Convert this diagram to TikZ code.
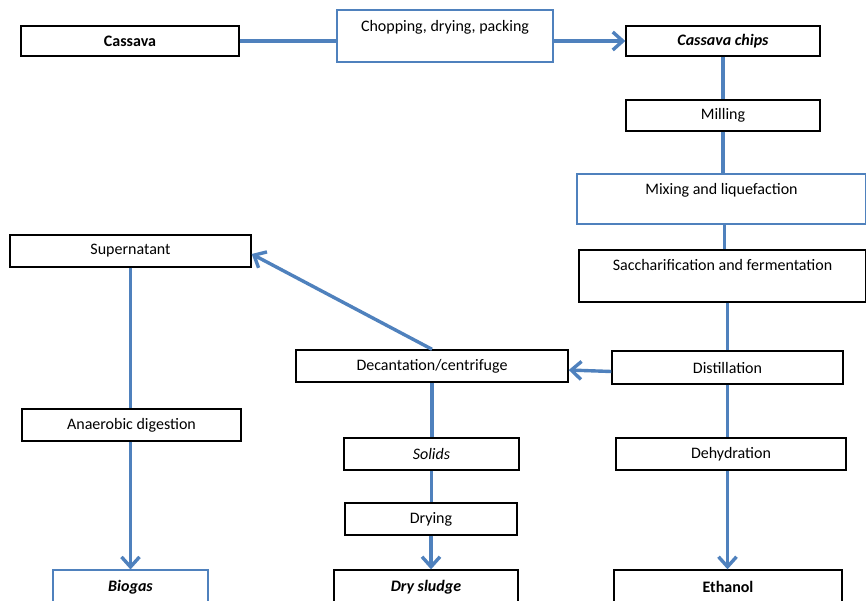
\documentclass[tikz,border=0pt]{standalone}
\usepackage{fontspec}
\setmainfont{Carlito}
\usepackage{tikz}
\usetikzlibrary{arrows.meta,calc,positioning}
\definecolor{flowblue}{RGB}{79,129,189}

\begin{document}
\begin{tikzpicture}[
  x=1pt,y=-1pt,
  font=\fontsize{16}{18}\selectfont,
  box/.style={draw,line width=1.4pt,fill=white,inner sep=0pt,align=center},
  bluebox/.style={draw=flowblue,line width=1.1pt,fill=white,inner sep=0pt},
  flow/.style={draw=flowblue,line width=3.4pt},
  >={Straight Barb[length=10pt,width=18pt]}
]
  \useasboundingbox[fill=white] (0,0) rectangle (866,600);

  \node[box,minimum width=218pt,minimum height=30pt] (cassava) at (130,41) {\textbf{Cassava}};
  \node[bluebox,minimum width=216pt,minimum height=52pt,
        label={[anchor=north,yshift=-7pt]north:Chopping, drying, packing}] (chop) at (445,36) {};
  \node[box,minimum width=194pt,minimum height=30pt] (chips) at (723,41) {\textbf{\textit{Cassava chips}}};
  \node[box,minimum width=194pt,minimum height=31pt] (mill) at (723,115.5) {Milling};
  \node[bluebox,minimum width=289pt,minimum height=50pt,
        label={[anchor=north,yshift=-6pt]north:Mixing and liquefaction}] (mix) at (721.5,199) {};
  \node[box,minimum width=287pt,minimum height=52pt,
        label={[anchor=north,yshift=-7pt]north:Saccharification and fermentation}] (sacch) at (722.5,276) {};
  \node[box,minimum width=241pt,minimum height=32pt] (super) at (130.5,251) {Supernatant};
  \node[box,minimum width=272pt,minimum height=32pt] (decant) at (432,366) {Decantation/centrifuge};
  \node[box,minimum width=231pt,minimum height=33pt] (distil) at (727.5,367.5) {Distillation};
  \node[box,minimum width=219pt,minimum height=32pt] (anaer) at (131.5,425) {Anaerobic digestion};
  \node[box,minimum width=175pt,minimum height=32pt] (solids) at (431.5,454) {\textit{Solids}};
  \node[box,minimum width=230pt,minimum height=32pt] (dehyd) at (731,454) {Dehydration};
  \node[box,minimum width=172pt,minimum height=32pt] (dry) at (431,519) {Drying};
  \node[bluebox,minimum width=155pt,minimum height=34pt] (biogas) at (130.5,587) {\textbf{\textit{Biogas}}};
  \node[box,minimum width=184pt,minimum height=34pt] (sludge) at (426,587) {\textbf{\textit{Dry sludge}}};
  \node[box,minimum width=228pt,minimum height=34pt] (ethanol) at (728,587) {\textbf{Ethanol}};

  \draw[flow] (cassava.east) -- (cassava.east -| chop.west);
  \draw[flow,->] (chop.east |- chips.west) -- (chips.west);
  \draw[flow] (chips.south) -- (mill.north);
  \draw[flow] (mill.south) -- (mill.south |- mix.north);
  \draw[flow] ([xshift=3pt]mix.south) -- ([xshift=3pt]mix.south |- sacch.north);
  \draw[flow] (sacch.south -| distil) -- (distil.north);
  \draw[flow,->] ([yshift=-4pt]distil.west) -- ([yshift=-4pt]decant.east);
  \draw[flow,->] (decant.north) -- ([yshift=-3pt]super.east);
  \draw[flow] (super.south) -- (super.south |- anaer.north);
  \draw[flow,->] (anaer.south -| biogas) -- (biogas.north);
  \draw[flow] (decant.south) -- (decant.south |- solids.north);
  \draw[flow] (solids.south) -- (solids.south |- dry.north);
  \draw[flow,->] (dry.south) -- (dry.south |- sludge.north);
  \draw[flow] (distil.south) -- (distil.south |- dehyd.north);
  \draw[flow,->] (dehyd.south -| distil) -- (distil |- ethanol.north);
\end{tikzpicture}
\end{document}
